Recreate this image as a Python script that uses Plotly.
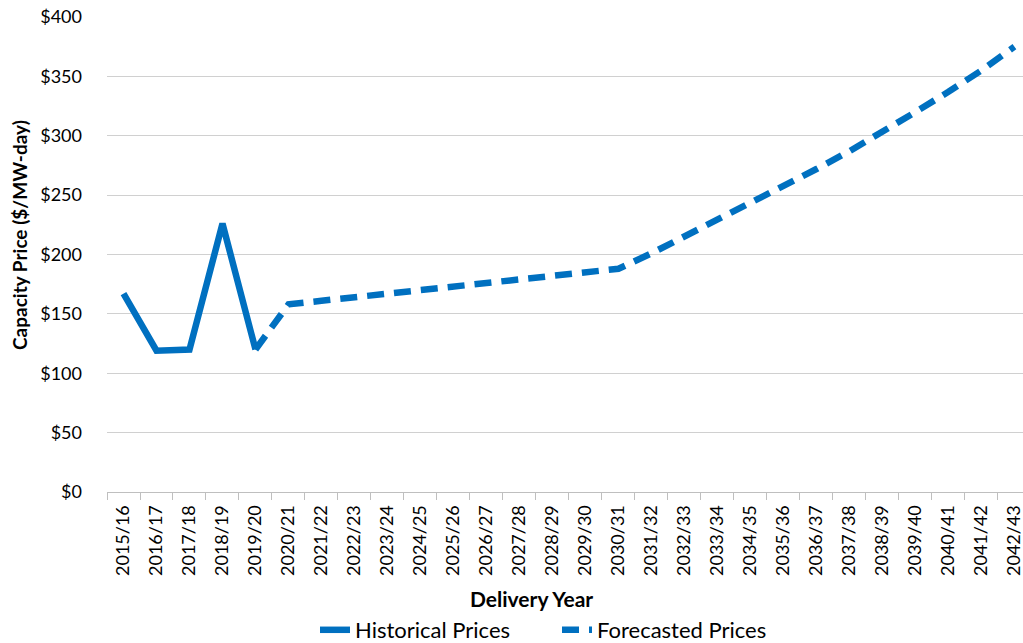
import plotly.graph_objects as go

years = ["2015/16", "2016/17", "2017/18", "2018/19", "2019/20", "2020/21", "2021/22",
         "2022/23", "2023/24", "2024/25", "2025/26", "2026/27", "2027/28", "2028/29",
         "2029/30", "2030/31", "2031/32", "2032/33", "2033/34", "2034/35", "2035/36",
         "2036/37", "2037/38", "2038/39", "2039/40", "2040/41", "2041/42", "2042/43"]

hist_years = years[:5]
hist_values = [167, 119, 120, 226, 120]

fc_years = years[4:]
fc_values = [120, 158, 161, 164, 167, 170, 172, 176, 179, 182, 185, 188,
             201, 215, 229, 243, 257, 272, 287, 303, 320, 337, 355, 375]

y_ticks = [0, 50, 100, 150, 200, 250, 300, 350, 400]
y_tick_text = ["$" + str(v) for v in y_ticks]

blue = "#0070C0"
font = "Lato, 'Open Sans', sans-serif"

W, H = 1023, 643
L, T, B = 107, 17, 151
PW, PH = W - L, H - T - B

def px(xw):
    return (xw - L) / PW

def py(yw):
    return (H - B - yw) / PH

fig = go.Figure()
fig.add_trace(go.Scatter(x=hist_years, y=hist_values, mode="lines", name="Historical Prices",
                         line=dict(color=blue, width=6.5)))
fig.add_trace(go.Scatter(x=fc_years, y=fc_values, mode="lines", name="Forecasted Prices",
                         line=dict(color=blue, width=6.5, dash="17px,10px")))

fig.update_layout(
    width=W, height=H,
    margin=dict(l=L, r=0, t=T, b=B, autoexpand=False),
    paper_bgcolor="white", plot_bgcolor="white",
    font=dict(family=font, color="#000000"),
    showlegend=True,
    legend=dict(orientation="h", x=px(315), xanchor="left", y=py(630), yanchor="middle",
                font=dict(size=22, family=font), tracegroupgap=0,
                entrywidth=197, entrywidthmode="pixels"),
    xaxis=dict(type="category", categoryorder="array", categoryarray=years,
               range=[-0.5, 27.26], tickangle=-90, tickfont=dict(size=18, family=font),
               showgrid=False, showline=True, linecolor="#bfbfbf", linewidth=1,
               ticks="outside", tickson="boundaries", ticklen=7, tickcolor="#bfbfbf",
               ticklabelstandoff=5, fixedrange=True, automargin=False),
    yaxis=dict(range=[0, 400], tickvals=y_ticks, ticktext=y_tick_text,
               tickfont=dict(size=18, family=font), showgrid=True, gridcolor="#d0d0d0",
               gridwidth=1, zeroline=False, showline=False, ticks="",
               ticklabelstandoff=24, automargin=False),
    annotations=[
        dict(text="<b>Delivery Year</b>", x=px(531), y=py(598), xref="paper", yref="paper",
             showarrow=False, font=dict(size=21, family=font), xanchor="center", yanchor="middle"),
        dict(text="<b>Capacity Price ($/MW-day)</b>", x=px(19), y=py(235),
             xref="paper", yref="paper", textangle=-90, showarrow=False,
             font=dict(size=19, family=font), xanchor="center", yanchor="middle"),
    ],
)

fig.write_html("out.html", config={"displayModeBar": False},
               post_script="document.body.style.margin='0';document.body.style.overflow='hidden';")
